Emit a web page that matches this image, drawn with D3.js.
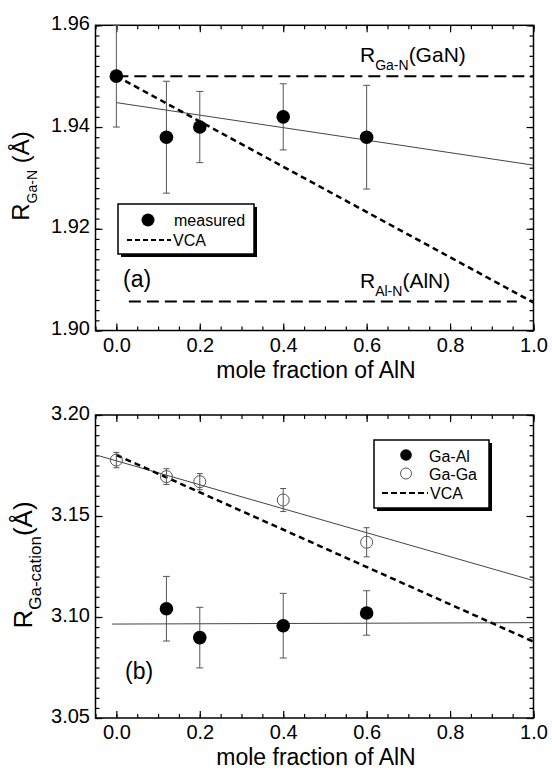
<!DOCTYPE html>
<html lang='en'>
<head>
	<meta charset='UTF-8'/>
	<title>R Ga-N and R Ga-cation vs mole fraction of AlN</title>
	<script src='https://cdnjs.cloudflare.com/ajax/libs/d3/7.8.5/d3.min.js'></script>
	<style>
		body {margin: 0; background: #fff;}
		svg {display: block; font-family: 'Liberation Sans', Arial, sans-serif;}
	</style>
</head>
<body>
	<div class='graph'></div>
	<script>
		// panel (a): Ga-N bond length
		var xMeas = [0, 0.12, 0.2, 0.4, 0.6];
		var rGaN = [1.950, 1.938, 1.940, 1.942, 1.938];
		var rGaNErr = [0.010, 0.011, 0.007, 0.0065, 0.0102];
		var fitA = [[0, 1.9448], [1.0, 1.9325]];
		var vcaA = [[0, 1.950], [1.0, 1.9055]];
		var refGaN = [[0, 1.950], [1.0, 1.950]];
		var refAlN = [[0.03, 1.9057], [0.96, 1.9057]];

		// panel (b): Ga-cation distances
		var xGaGa = [0, 0.12, 0.2, 0.4, 0.6];
		var rGaGa = [3.1777, 3.1695, 3.167, 3.1579, 3.137];
		var rGaGaErr = [0.0038, 0.0039, 0.004, 0.0057, 0.0072];
		var xGaAl = [0.12, 0.2, 0.4, 0.6];
		var rGaAl = [3.1041, 3.0898, 3.0957, 3.102];
		var rGaAlErr = [0.016, 0.015, 0.016, 0.011];
		var fitGaGa = [[-0.04, 3.1797], [1.0, 3.118]];
		var fitGaAl = [[-0.01, 3.0965], [1.0, 3.0972]];
		var vcaB = [[0, 3.1802], [1.0, 3.0878]];

		// ticks
		var xTicks = [0, 0.2, 0.4, 0.6, 0.8, 1.0];
		var yTicksA = [1.90, 1.92, 1.94, 1.96];
		var yTicksB = [3.05, 3.10, 3.15, 3.20];

		var width = 552, height = 770;
		var svg = d3.select('.graph').append('svg')
			.attr('width', width)
			.attr('height', height);

		var X = d3.scaleLinear().domain([-0.05, 1.0]).range([95.5, 533.5]);
		var xMinor = d3.range(-0.05, 1.001, 0.05);

		function frame(g, y, yTicks, yMinor) {
			var top = y.range()[1], bottom = y.range()[0];
			var left = X.range()[0], right = X.range()[1];

			function clean(sel) {
				sel.select('.domain').remove();
				sel.selectAll('line').attr('stroke-width', 1.2);
				sel.attr('font-family', null).attr('font-size', 20);
			}
			// bottom
			g.append('g').attr('transform', 'translate(0,' + bottom + ')')
				.call(d3.axisBottom(X).tickValues(xTicks).tickFormat(d3.format('.1f'))
					.tickSizeInner(-7).tickSizeOuter(0).tickPadding(7))
				.call(clean);
			g.append('g').attr('transform', 'translate(0,' + bottom + ')')
				.call(d3.axisBottom(X).tickValues(xMinor).tickFormat('').tickSize(-4))
				.call(clean);
			// top
			g.append('g').attr('transform', 'translate(0,' + top + ')')
				.call(d3.axisTop(X).tickValues(xTicks).tickFormat('').tickSizeInner(-7).tickSizeOuter(0))
				.call(clean);
			g.append('g').attr('transform', 'translate(0,' + top + ')')
				.call(d3.axisTop(X).tickValues(xMinor).tickFormat('').tickSize(-4))
				.call(clean);
			// left
			g.append('g').attr('transform', 'translate(' + left + ',0)')
				.call(d3.axisLeft(y).tickValues(yTicks).tickFormat(d3.format('.2f'))
					.tickSizeInner(-7).tickSizeOuter(0).tickPadding(5.5))
				.call(clean)
				.selectAll('text').attr('dy', '0.2em');
			g.append('g').attr('transform', 'translate(' + left + ',0)')
				.call(d3.axisLeft(y).tickValues(yMinor).tickFormat('').tickSize(-4))
				.call(clean);
			// right
			g.append('g').attr('transform', 'translate(' + right + ',0)')
				.call(d3.axisRight(y).tickValues(yTicks).tickFormat('').tickSizeInner(-7).tickSizeOuter(0))
				.call(clean);
			g.append('g').attr('transform', 'translate(' + right + ',0)')
				.call(d3.axisRight(y).tickValues(yMinor).tickFormat('').tickSize(-4))
				.call(clean);

			g.append('rect')
				.attr('x', left).attr('y', top)
				.attr('width', right - left).attr('height', bottom - top)
				.attr('fill', 'none').attr('stroke', '#000').attr('stroke-width', 1.5);

			g.append('text')
				.attr('x', 316).attr('y', bottom + 47)
				.attr('text-anchor', 'middle')
				.attr('font-size', 23)
				.text('mole fraction of AlN');
		}

		function segment(g, y, pts, dash, w, color) {
			g.append('path')
				.attr('d', d3.line().x(d => X(d[0])).y(d => y(d[1]))(pts))
				.attr('fill', 'none')
				.attr('stroke', color || '#000')
				.attr('stroke-width', w)
				.attr('stroke-dasharray', dash);
		}

		function errorBars(g, y, xs, vs, es, cap) {
			var eb = g.append('g').attr('stroke', '#555').attr('stroke-width', 1);
			xs.forEach((xv, i) => {
				var cx = X(xv), y0 = y(vs[i] - es[i]), y1 = y(vs[i] + es[i]);
				eb.append('line').attr('x1', cx).attr('x2', cx).attr('y1', y0).attr('y2', y1);
				eb.append('line').attr('x1', cx - cap).attr('x2', cx + cap).attr('y1', y0).attr('y2', y0);
				eb.append('line').attr('x1', cx - cap).attr('x2', cx + cap).attr('y1', y1).attr('y2', y1);
			});
		}

		function rLabel(g, x, y, sub, tail, size, subSize, shift) {
			var t = g.append('text').attr('x', x).attr('y', y).attr('font-size', size);
			t.append('tspan').text('R');
			t.append('tspan').attr('font-size', subSize).attr('dy', shift).text(sub);
			t.append('tspan').attr('dy', -shift).text(tail);
			return t;
		}

		// ---------- panel (a)
		var gA = svg.append('g');
		var yA = d3.scaleLinear().domain([1.90, 1.96]).range([330.5, 25.3]);
		frame(gA, yA, yTicksA, d3.range(1.90, 1.9601, 0.002));

		segment(gA, yA, refGaN, '12,6', 2);
		segment(gA, yA, refAlN, '12,6', 2);
		segment(gA, yA, fitA, null, 1, '#444');
		segment(gA, yA, vcaA, '6,4', 2.5);
		errorBars(gA, yA, xMeas, rGaN, rGaNErr, 3.5);
		gA.selectAll('.meas')
			.data(xMeas)
			.enter()
			.append('circle')
			.attr('cx', d => X(d))
			.attr('cy', (d, i) => yA(rGaN[i]))
			.attr('r', 6.8)
			.attr('fill', '#000');

		rLabel(gA, 360, yA(1.95) - 14, 'Ga-N', '(GaN)', 21, 14, 8);
		rLabel(gA, 360, yA(1.9057) - 14, 'Al-N', '(AlN)', 21, 14, 8);
		gA.append('text').attr('x', 123).attr('y', 287).attr('font-size', 23).text('(a)');

		rLabel(gA, 0, 0, 'Ga-N', ' (\u00c5)', 24, 14, 8)
			.attr('text-anchor', 'middle')
			.attr('transform', 'translate(29,176) rotate(-90)');

		// legend (a)
		var lA = gA.append('g');
		lA.append('rect').attr('x', 121).attr('y', 207).attr('width', 136).attr('height', 50).attr('fill', '#000');
		lA.append('rect').attr('x', 118).attr('y', 204).attr('width', 136).attr('height', 50)
			.attr('fill', '#fff').attr('stroke', '#000').attr('stroke-width', 1.5);
		lA.append('circle').attr('cx', 148).attr('cy', 220).attr('r', 6.5).attr('fill', '#000');
		lA.append('text').attr('x', 174).attr('y', 226).attr('font-size', 16).text('measured');
		lA.append('line').attr('x1', 127).attr('x2', 171).attr('y1', 240).attr('y2', 240)
			.attr('stroke', '#000').attr('stroke-width', 2).attr('stroke-dasharray', '5,3');
		lA.append('text').attr('x', 173).attr('y', 245.5).attr('font-size', 16).text('VCA');

		// ---------- panel (b)
		var gB = svg.append('g');
		var yB = d3.scaleLinear().domain([3.05, 3.20]).range([718, 415]);
		frame(gB, yB, yTicksB, d3.range(3.05, 3.2001, 0.005));

		segment(gB, yB, fitGaGa, null, 1, '#444');
		segment(gB, yB, fitGaAl, null, 1, '#444');
		segment(gB, yB, vcaB, '6,4', 2.5);
		errorBars(gB, yB, xGaGa, rGaGa, rGaGaErr, 3);
		errorBars(gB, yB, xGaAl, rGaAl, rGaAlErr, 3.5);
		gB.selectAll('.gaga')
			.data(xGaGa)
			.enter()
			.append('circle')
			.attr('cx', d => X(d))
			.attr('cy', (d, i) => yB(rGaGa[i]))
			.attr('r', 6)
			.attr('fill', 'none')
			.attr('stroke', '#555')
			.attr('stroke-width', 1);
		gB.selectAll('.gaal')
			.data(xGaAl)
			.enter()
			.append('circle')
			.attr('cx', d => X(d))
			.attr('cy', (d, i) => yB(rGaAl[i]))
			.attr('r', 6.8)
			.attr('fill', '#000');

		gB.append('text').attr('x', 125).attr('y', 679).attr('font-size', 23).text('(b)');

		rLabel(gB, 0, 0, 'Ga-cation', '(\u00c5)', 26, 17, 9)
			.attr('text-anchor', 'middle')
			.attr('transform', 'translate(32,565) rotate(-90)');

		// legend (b)
		var lB = gB.append('g');
		lB.append('rect').attr('x', 377).attr('y', 443).attr('width', 115).attr('height', 68).attr('fill', '#000');
		lB.append('rect').attr('x', 374).attr('y', 440).attr('width', 115).attr('height', 68)
			.attr('fill', '#fff').attr('stroke', '#000').attr('stroke-width', 1.5);
		lB.append('circle').attr('cx', 406).attr('cy', 455).attr('r', 5.8).attr('fill', '#000');
		lB.append('text').attr('x', 429).attr('y', 461.5).attr('font-size', 16).text('Ga-Al');
		lB.append('circle').attr('cx', 406).attr('cy', 473.5).attr('r', 5.5)
			.attr('fill', 'none').attr('stroke', '#555').attr('stroke-width', 1);
		lB.append('text').attr('x', 429).attr('y', 480).attr('font-size', 16).text('Ga-Ga');
		lB.append('line').attr('x1', 382).attr('x2', 428).attr('y1', 493).attr('y2', 493)
			.attr('stroke', '#000').attr('stroke-width', 2).attr('stroke-dasharray', '6,3');
		lB.append('text').attr('x', 430).attr('y', 499).attr('font-size', 16).text('VCA');
	</script>
</body>
</html>
